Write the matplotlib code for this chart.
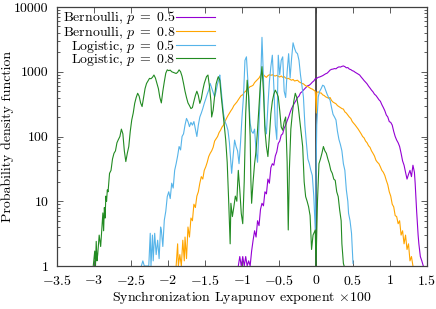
import numpy as np
import matplotlib
import matplotlib.pyplot as plt
import matplotlib.ticker as ticker

plt.rcParams['font.family'] = 'cmr10'
plt.rcParams['mathtext.fontset'] = 'cm'
plt.rcParams['axes.formatter.use_mathtext'] = True
plt.rcParams['font.size'] = 10

# Bernoulli, p = 0.5
x_b5 = [-1.05, -1.03, -1.01, -0.99, -0.97, -0.95, -0.93, -0.91, -0.89, -0.87, -0.85, -0.83, -0.81,
        -0.79, -0.77, -0.75, -0.73, -0.71, -0.69, -0.67, -0.65, -0.63, -0.61, -0.59, -0.57, -0.55,
        -0.53, -0.51, -0.49, -0.47, -0.45, -0.43, -0.41, -0.39, -0.37, -0.35, -0.33, -0.31, -0.29,
        -0.27, -0.25, -0.23, -0.21, -0.19, -0.17, -0.15, -0.13, -0.11, -0.09, -0.07, -0.05, -0.03,
        -0.01, 0.01, 0.03, 0.05, 0.07, 0.09, 0.11, 0.13, 0.15, 0.17, 0.19, 0.21, 0.23, 0.25, 0.27,
        0.29, 0.31, 0.33, 0.35, 0.37, 0.39, 0.41, 0.43, 0.45, 0.47, 0.49, 0.51, 0.53, 0.55, 0.57,
        0.59, 0.61, 0.63, 0.65, 0.67, 0.69, 0.71, 0.73, 0.75, 0.77, 0.79, 0.81, 0.83, 0.85, 0.87,
        0.89, 0.91, 0.93, 0.95, 0.97, 0.99, 1.01, 1.03, 1.05, 1.07, 1.09, 1.11, 1.13, 1.15, 1.17,
        1.19, 1.21, 1.23, 1.25, 1.27, 1.29, 1.31, 1.33, 1.34, 1.36, 1.38, 1.39, 1.41, 1.43, 1.45]
y_b5 = [1, 1.4, 1, 1.4, 1, 1.4, 1, 1.2, 1, 1.7, 2.5, 3.5, 2.8,
        5.0, 4.2, 7.5, 9.3, 8.5, 14, 13, 22, 19, 33, 38, 36, 50,
        58, 78, 85, 105, 110, 135, 150, 175, 200, 235, 270, 300, 330,
        360, 400, 420, 470, 490, 520, 550, 580, 610, 620, 650, 690, 720,
        780, 790, 820, 830, 850, 870, 900, 930, 950, 1000, 1060, 1090, 1100, 1120, 1110,
        1160, 1190, 1180, 1210, 1230, 1200, 1150, 1160, 1100, 1080, 1040, 1020, 980, 950, 920,
        890, 830, 780, 730, 690, 650, 600, 560, 520, 490, 450, 430, 400, 370, 350,
        310, 280, 250, 215, 200, 170, 165, 150, 120, 100, 88, 80, 70, 55, 42,
        36, 28, 22, 26, 30, 24, 36, 28, 19, 7, 3, 2.2, 1.4, 1.2, 1]

# Bernoulli, p = 0.8
x_b8 = [-1.89, -1.87, -1.86, -1.84, -1.82, -1.80, -1.78, -1.77, -1.75, -1.73, -1.71, -1.69, -1.67,
        -1.65, -1.63, -1.61, -1.59, -1.57, -1.55, -1.53, -1.51, -1.49, -1.47, -1.45, -1.43, -1.41,
        -1.39, -1.37, -1.35, -1.33, -1.31, -1.29, -1.27, -1.25, -1.23, -1.21, -1.19, -1.17, -1.15,
        -1.13, -1.11, -1.09, -1.07, -1.05, -1.03, -1.01, -0.99, -0.97, -0.95, -0.93, -0.91, -0.89,
        -0.87, -0.85, -0.83, -0.81, -0.79, -0.77, -0.75, -0.73, -0.71, -0.69, -0.67, -0.65, -0.63,
        -0.61, -0.59, -0.57, -0.55, -0.53, -0.51, -0.49, -0.47, -0.45, -0.43, -0.41, -0.39, -0.37,
        -0.35, -0.33, -0.31, -0.29, -0.27, -0.25, -0.23, -0.21, -0.19, -0.17, -0.15, -0.13, -0.11,
        -0.09, -0.07, -0.05, -0.03, -0.01, 0.005, 0.01, 0.03, 0.05, 0.07, 0.09, 0.11, 0.13, 0.15,
        0.17, 0.19, 0.21, 0.23, 0.25, 0.27, 0.29, 0.31, 0.33, 0.35, 0.37, 0.39, 0.41, 0.43, 0.45,
        0.47, 0.49, 0.51, 0.53, 0.55, 0.57, 0.59, 0.61, 0.63, 0.65, 0.67, 0.69, 0.71, 0.73, 0.75,
        0.77, 0.79, 0.81, 0.83, 0.85, 0.87, 0.89, 0.91, 0.93, 0.95, 0.97, 0.99, 1.01, 1.03, 1.05,
        1.07, 1.09, 1.11, 1.13, 1.15, 1.17, 1.19, 1.21, 1.23, 1.25, 1.27, 1.29, 1.31]
y_b8 = [1, 2.2, 1, 1.5, 1, 2.5, 1.2, 2.8, 1.3, 4, 2.8, 5.5, 5,
        9, 8, 12, 14, 19, 24, 22, 30, 34, 40, 49, 55, 60,
        68, 85, 92, 100, 115, 125, 140, 150, 170, 190, 210, 230, 250,
        270, 300, 320, 340, 370, 400, 430, 440, 480, 500, 540, 560, 590,
        600, 620, 680, 720, 760, 800, 880, 960, 900, 850, 820, 870, 900,
        880, 900, 870, 860, 880, 850, 830, 860, 820, 840, 800, 780, 790,
        760, 740, 760, 720, 730, 740, 700, 680, 660, 650, 620, 600, 590,
        570, 550, 540, 520, 500, 230, 480, 490, 470, 470, 440, 430, 410, 400,
        390, 400, 360, 340, 330, 320, 300, 290, 280, 270, 265, 240, 230, 215, 200,
        190, 170, 160, 150, 140, 130, 120, 110, 100, 95, 85, 80, 72, 68, 60,
        55, 50, 43, 40, 38, 34, 30, 28, 25, 21, 18, 14, 12, 9, 8.2,
        6, 5.8, 4.5, 5, 3, 3.5, 2.2, 3, 1.8, 2.2, 1.2, 1.4, 1]

# Logistic, p = 0.5
x_l5 = [-2.36, -2.34, -2.32, -2.26, -2.24, -2.23, -2.21, -2.20, -2.18, -2.16, -2.14, -2.12, -2.10,
        -2.09, -2.07, -2.05, -2.03, -2.01, -1.99, -1.97, -1.95, -1.93, -1.91, -1.89, -1.87, -1.85,
        -1.83, -1.81, -1.79, -1.77, -1.75, -1.73, -1.71, -1.69, -1.67, -1.65, -1.63, -1.61, -1.59,
        -1.57, -1.55, -1.53, -1.51, -1.49, -1.47, -1.45, -1.43, -1.41, -1.39, -1.37, -1.35, -1.33,
        -1.31, -1.30, -1.28, -1.26, -1.25, -1.23, -1.21, -1.19, -1.17, -1.15, -1.14, -1.12, -1.10,
        -1.08, -1.06, -1.04, -1.02, -1.00, -0.98, -0.96, -0.94, -0.92, -0.90, -0.89, -0.87, -0.85,
        -0.83, -0.81, -0.79, -0.77, -0.75, -0.73, -0.71, -0.69, -0.67, -0.65, -0.63, -0.61, -0.59,
        -0.57, -0.55, -0.53, -0.51, -0.49, -0.47, -0.45, -0.43, -0.41, -0.39, -0.37, -0.35, -0.33,
        -0.31, -0.29, -0.27, -0.25, -0.23, -0.21, -0.19, -0.17, -0.15, -0.13, -0.11, -0.09, -0.07,
        -0.05, -0.03, -0.01, 0.01, 0.03, 0.05, 0.07, 0.09, 0.11, 0.13, 0.15, 0.17, 0.19, 0.21,
        0.23, 0.25, 0.27, 0.29, 0.31, 0.33, 0.35, 0.37, 0.39, 0.41, 0.43, 0.44, 0.46, 0.48, 0.50]
y_l5 = [1, 1.2, 1, 1, 3.2, 1, 3.0, 1.2, 3.2, 1.5, 2.5, 1.3, 4,
        3.6, 2, 5.1, 7, 11.8, 14, 11, 19, 16, 30, 38, 50, 70,
        62, 100, 110, 150, 190, 170, 142, 165, 150, 170, 130, 100, 150,
        200, 230, 270, 325, 380, 450, 520, 660, 560, 480, 410, 500, 650,
        780, 890, 500, 300, 225, 170, 150, 125, 80, 40, 27, 50, 88,
        70, 60, 38, 80, 200, 410, 1500, 1700, 700, 250, 160, 120, 112,
        130, 60, 40, 150, 600, 3400, 800, 150, 110, 300, 700, 1200, 1800,
        600, 150, 90, 1800, 900, 1500, 1700, 500, 400, 1000, 1900, 800, 1600,
        2800, 2300, 2000, 1900, 1500, 900, 600, 410, 150, 80, 45, 38, 30,
        25, 12, 3.6, 150, 410, 500, 550, 620, 600, 520, 450, 400, 365, 280,
        220, 200, 180, 120, 90, 75, 60, 38, 30, 15, 10, 6.5, 5, 3.2, 1.1]

# Logistic, p = 0.8
x_l8 = [-3.01, -2.99, -2.98, -2.97, -2.96, -2.95, -2.93, -2.91, -2.89, -2.88, -2.87, -2.86, -2.85,
        -2.84, -2.83, -2.82, -2.81, -2.79, -2.77, -2.75, -2.73, -2.71, -2.69, -2.67, -2.65, -2.63,
        -2.61, -2.59, -2.57, -2.55, -2.53, -2.51, -2.49, -2.47, -2.45, -2.43, -2.41, -2.39, -2.37,
        -2.35, -2.33, -2.31, -2.29, -2.27, -2.25, -2.23, -2.21, -2.19, -2.17, -2.15, -2.13, -2.11,
        -2.09, -2.07, -2.05, -2.03, -2.01, -1.99, -1.97, -1.95, -1.93, -1.91, -1.89, -1.87, -1.85,
        -1.83, -1.81, -1.79, -1.77, -1.75, -1.73, -1.71, -1.69, -1.67, -1.65, -1.63, -1.61, -1.59,
        -1.57, -1.55, -1.53, -1.51, -1.49, -1.48, -1.46, -1.44, -1.42, -1.41, -1.39, -1.37, -1.35,
        -1.33, -1.32, -1.30, -1.28, -1.26, -1.24, -1.22, -1.20, -1.18, -1.16, -1.15, -1.13, -1.11,
        -1.09, -1.07, -1.05, -1.03, -1.01, -0.99, -0.97, -0.95, -0.93, -0.91, -0.89, -0.88, -0.87,
        -0.85, -0.83, -0.81, -0.79, -0.77, -0.75, -0.73, -0.71, -0.69, -0.67, -0.65, -0.63, -0.61,
        -0.59, -0.57, -0.55, -0.53, -0.51, -0.49, -0.47, -0.45, -0.43, -0.41, -0.39, -0.375, -0.36,
        -0.34, -0.32, -0.30, -0.28, -0.26, -0.24, -0.22, -0.20, -0.18, -0.16, -0.14, -0.12, -0.10,
        -0.08, -0.06, -0.04, -0.01, 0.00, 0.02, 0.04, 0.06, 0.08, 0.10, 0.12, 0.14, 0.16,
        0.18, 0.20, 0.22, 0.24, 0.26, 0.28, 0.30, 0.32, 0.34, 0.35, 0.37, 0.38]
y_l8 = [1, 1.7, 1, 2.4, 1.2, 1.5, 3, 2, 4.5, 6.6, 3.5, 8, 5.5,
        12, 10, 15, 14, 27, 30, 45, 55, 60, 80, 90, 100, 130,
        110, 60, 41, 55, 70, 120, 180, 230, 325, 400, 465, 420, 330,
        290, 400, 550, 660, 720, 790, 780, 820, 890, 800, 660, 550, 400,
        330, 500, 700, 950, 1070, 1040, 1060, 1000, 980, 960, 940, 980, 1070,
        1000, 850, 660, 500, 400, 330, 300, 270, 280, 350, 430, 500, 430,
        325, 380, 520, 660, 780, 840, 890, 600, 350, 200, 255, 420, 650,
        780, 840, 740, 410, 250, 150, 88, 40, 10, 2.2, 9.3, 5.8, 8.2,
        12, 10, 30, 15, 6.5, 4.5, 20, 225, 740, 410, 100, 21, 9.3,
        20, 38, 60, 125, 300, 700, 1200, 500, 125, 70, 49, 100, 225,
        350, 450, 520, 470, 410, 250, 140, 125, 170, 200, 40, 3.6, 30,
        130, 225, 350, 465, 400, 290, 180, 110, 70, 20, 11.8, 10, 8.2,
        6, 1.8, 3, 3.6, 1, 10, 38, 45, 55, 70, 60, 55, 45,
        38, 30, 27, 22, 21, 14, 11.8, 7.3, 5, 2.2, 1.1, 1]

series = [
    (x_b5, y_b5, '#9400d3', r'Bernoulli, $p\;=\;0.5$'),
    (x_b8, y_b8, '#ffa500', r'Bernoulli, $p\;=\;0.8$'),
    (x_l5, y_l5, '#56b4e9', r'Logistic, $p\;=\;0.5$'),
    (x_l8, y_l8, '#228b22', r'Logistic, $p\;=\;0.8$'),
]

fig = plt.figure(figsize=(4.36, 3.09), dpi=100)
ax = fig.add_axes([57/436, 43/309, 370/436, 259/309])

ax.axvline(0, color='#404040', lw=1.3, zorder=1)
for xs, ys, col, lab in series:
    ax.plot(xs, ys, color=col, lw=0.8, label=lab, zorder=2)

ax.set_yscale('log')
ax.set_xlim(-3.5, 1.5)
ax.set_ylim(1, 10000)

ax.xaxis.set_major_locator(ticker.MultipleLocator(0.5))
ax.xaxis.set_major_formatter(ticker.FuncFormatter(lambda v, p: r'$%g$' % round(v, 2)))
ax.yaxis.set_major_locator(ticker.FixedLocator([1, 10, 100, 1000, 10000]))
ax.yaxis.set_major_formatter(ticker.FuncFormatter(lambda v, p: '%d' % v))
ax.yaxis.set_minor_locator(ticker.LogLocator(subs=np.arange(2, 10)))
ax.yaxis.set_minor_formatter(ticker.NullFormatter())

ax.tick_params(which='both', direction='in', top=True, right=True, color='#404040')
ax.tick_params(which='major', length=4.5, width=0.6, labelsize=10, pad=6)
ax.tick_params(which='minor', length=2.5, width=0.6)
for s in ax.spines.values():
    s.set_color('#404040')
    s.set_linewidth(0.9)

ax.set_xlabel(r'Synchronization Lyapunov exponent $\times 100$', fontsize=10)
ax.set_ylabel('Probability density function', fontsize=10)
ax.xaxis.set_label_coords(0.5, -(289 - 266) / 259)
ax.yaxis.set_label_coords(-(57 - 14) / 370, 0.5)

ax.legend(loc='upper left', bbox_to_anchor=(0.0, 1.012), frameon=False, markerfirst=False,
          handlelength=2.8, handletextpad=0.1, labelspacing=-0.2, borderaxespad=0.0,
          fontsize=10)

fig.savefig('out.png', dpi=100)
